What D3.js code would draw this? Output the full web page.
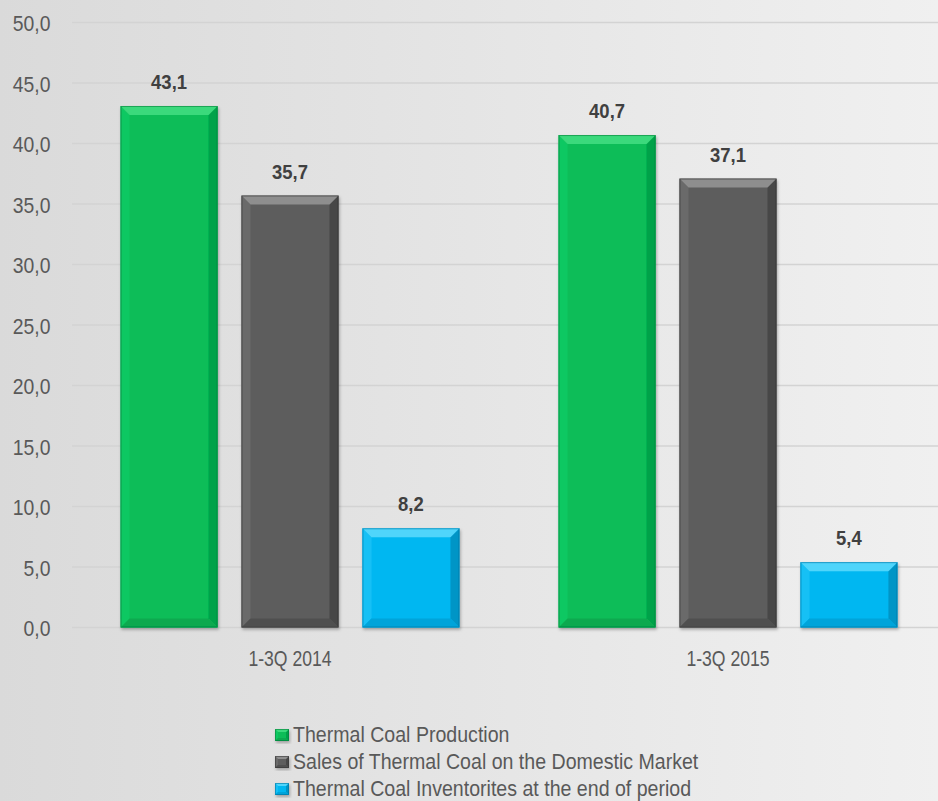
<!DOCTYPE html>
<html>
<head>
<meta charset="utf-8">
<script src="https://cdn.jsdelivr.net/npm/d3@7"></script>
<style>
  html, body { margin: 0; padding: 0; background: #e6e6e6; }
  svg { display: block; }
  text { font-family: "Liberation Sans", Arial, sans-serif; }
</style>
</head>
<body>
<svg id="chart" width="938" height="801"></svg>
<script>
// Thermal coal: production, domestic sales and inventories (mln t)
const periods = ["1-3Q 2014", "1-3Q 2015"];
const seriesNames = [
  "Thermal Coal Production",
  "Sales of Thermal Coal on the Domestic Market",
  "Thermal Coal Inventorites at the end of period"
];
const production = [43.1, 40.7];
const domesticSales = [35.7, 37.1];
const inventories = [8.2, 5.4];
const yTicks = [0, 5, 10, 15, 20, 25, 30, 35, 40, 45, 50];

// face / top / left / right / bottom shades for each series
const palettes = [
  { face: "#08bd58", top: "#3ad97b", left: "#10c862", right: "#06a24a", bottom: "#07a94f", edge: "#057a38" },
  { face: "#5d5d5d", top: "#8e8e8e", left: "#6a6a6a", right: "#474747", bottom: "#505050", edge: "#333333" },
  { face: "#02b7f1", top: "#4fd5fb", left: "#14c0f5", right: "#0395c6", bottom: "#02a4da", edge: "#02709a" }
];

const values = [production, domesticSales, inventories];
const rows = periods.map((p, i) => ({ period: p, vals: values.map(s => s[i]) }));

const fmt = v => d3.format(".1f")(v).replace(".", ",");

const svg = d3.select("#chart");
const W = 938, H = 801;

// background gradient
const defs = svg.append("defs");
const bg = defs.append("linearGradient").attr("id", "bg").attr("x1", 0).attr("x2", 1).attr("y1", 0).attr("y2", 0);
bg.append("stop").attr("offset", 0).attr("stop-color", "#dadada");
bg.append("stop").attr("offset", 1).attr("stop-color", "#f0f0f0");
const shadow = defs.append("filter").attr("id", "shadow").attr("x", "-10%").attr("y", "-10%").attr("width", "130%").attr("height", "130%");
shadow.append("feDropShadow").attr("dx", 1).attr("dy", 2).attr("stdDeviation", 1.6)
  .attr("flood-color", "#000").attr("flood-opacity", 0.28);

svg.append("rect").attr("width", W).attr("height", H).attr("fill", "url(#bg)");

const y = d3.scaleLinear().domain([0, 50]).range([627.5, 22.5]);
const x0 = d3.scaleBand().domain(periods).range([71, 947]).padding(0);
const x1 = d3.scaleBand().domain(d3.range(seriesNames.length)).range([0, x0.bandwidth()])
  .paddingInner(0.198).paddingOuter(0.41);

// gridlines
svg.append("g").selectAll("line").data(yTicks).join("line")
  .attr("x1", 72).attr("x2", W)
  .attr("y1", d => y(d)).attr("y2", d => y(d))
  .attr("stroke", "#d3d3d3").attr("stroke-width", 1.6);

// y axis labels
const yAxis = svg.append("g").attr("transform", "translate(50.5,0)")
  .call(d3.axisLeft(y).tickValues(yTicks).tickFormat(fmt).tickSize(0).tickPadding(0));
yAxis.select(".domain").remove();
yAxis.selectAll("text")
  .attr("font-family", "Liberation Sans, Arial, sans-serif")
  .attr("font-size", 22).attr("fill", "#595959")
  .attr("dy", null).attr("y", 0).attr("x", 0)
  .attr("transform", "translate(0,8) scale(0.88,1)");

// bevelled bar shapes
function bevel(g, x, yTop, w, h, pal, b) {
  b = Math.min(b, h / 2, w / 2);
  const X2 = x + w, Y2 = yTop + h;
  const pts = a => a.map(p => p.join(",")).join(" ");
  const grp = g.append("g").attr("filter", "url(#shadow)");
  grp.append("rect").attr("x", x).attr("y", yTop).attr("width", w).attr("height", h).attr("fill", pal.face);
  grp.append("polygon").attr("points", pts([[x, yTop], [x + b, yTop + b], [x + b, Y2 - b], [x, Y2]])).attr("fill", pal.left);
  grp.append("polygon").attr("points", pts([[X2, yTop], [X2 - b, yTop + b], [X2 - b, Y2 - b], [X2, Y2]])).attr("fill", pal.right);
  grp.append("polygon").attr("points", pts([[x, Y2], [x + b, Y2 - b], [X2 - b, Y2 - b], [X2, Y2]])).attr("fill", pal.bottom);
  grp.append("polygon").attr("points", pts([[x, yTop], [X2, yTop], [X2 - b, yTop + b], [x + b, yTop + b]])).attr("fill", pal.top);
  grp.append("rect").attr("x", x + 0.5).attr("y", yTop + 0.5).attr("width", w - 1).attr("height", h - 1)
    .attr("fill", "none").attr("stroke", pal.edge).attr("stroke-width", 1).attr("stroke-opacity", 0.55);
}

const barsG = svg.append("g");
rows.forEach(r => {
  r.vals.forEach((v, k) => {
    const bx = x0(r.period) + x1(k);
    bevel(barsG, bx, y(v), x1.bandwidth(), y(0) - y(v), palettes[k], 9);
  });
});

// value labels
const lblG = svg.append("g");
rows.forEach(r => {
  r.vals.forEach((v, k) => {
    const cx = x0(r.period) + x1(k) + x1.bandwidth() / 2;
    lblG.append("text")
      .attr("transform", `translate(${cx},${y(v) - 17}) scale(0.88,1)`)
      .attr("text-anchor", "middle")
      .attr("font-size", 21).attr("font-weight", "bold").attr("fill", "#404040")
      .text(fmt(v));
  });
});

// category labels
svg.append("g").selectAll("text").data(periods).join("text")
  .attr("transform", d => `translate(${x0(d) + x0.bandwidth() / 2},666) scale(0.8,1)`)
  .attr("text-anchor", "middle")
  .attr("font-size", 22).attr("fill", "#595959")
  .text(d => d);

// legend
const legend = svg.append("g");
seriesNames.forEach((name, k) => {
  const base = 742 + k * 27;
  bevel(legend, 275, base - 13, 14, 12, palettes[k], 3);
  legend.append("text")
    .attr("transform", `translate(293,${base}) scale(0.89,1)`)
    .attr("font-size", 22).attr("fill", "#595959")
    .text(name);
});
</script>
</body>
</html>
